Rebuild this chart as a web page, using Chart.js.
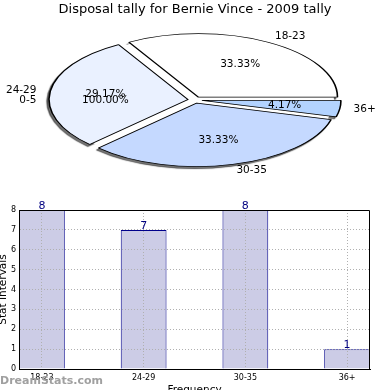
<!DOCTYPE html>
<html lang="en">
<head>
<meta charset="UTF-8">
<title>Disposal tally for Bernie Vince - 2009 tally</title>
<style>
    * { margin: 0; padding: 0; box-sizing: border-box; }
    body { width: 390px; height: 390px; background: #fff; position: relative; overflow: hidden; }
    #pieChart { position: absolute; left: 0; top: 0; }
    #barChart { position: absolute; left: 0; top: 190px; }
</style>
<script src="https://cdn.jsdelivr.net/npm/chart.js"></script>
</head>
<body>
<canvas id="pieChart" width="390" height="190"></canvas>
<canvas id="barChart" width="390" height="200"></canvas>
<script>
// data
const title = 'Disposal tally for Bernie Vince - 2009 tally';
const pieLabels = ['18-23', '24-29', '0-5', '30-35', '36+'];
const pieValues = [8, 7, 0, 8, 1];
const pieColors = ['#ffffff', '#eaf1ff', '#dfe9ff', '#c5d9ff', '#b3d3ff'];

const barLabels = ['18-23', '24-29', '30-35', '36+'];
const barValues = [8, 7, 8, 1];
const yTicks = [0, 1, 2, 3, 4, 5, 6, 7, 8];
const xTitle = 'Frequency';
const yTitle = 'Stat Intervals';
const watermark = 'DreamStats.com';

const FONT = '"DejaVu Sans", sans-serif';
const SQUASH = 0.457;   // the pie is drawn as a flat ellipse
const EXPLODE = 7;      // every wedge pulled out a bit

// chart.js runs clockwise, the original pie runs counter-clockwise
const order = pieLabels.map((_, i) => i).reverse();

function explodeShift(arc) {
    const mid = (arc.startAngle + arc.endAngle) / 2;
    return [Math.cos(mid) * EXPLODE, Math.sin(mid) * EXPLODE];
}

const ellipsePie = {
    id: 'ellipsePie',
    beforeDatasetsDraw(chart) {
        const ctx = chart.ctx;
        const arcs = chart.getDatasetMeta(0).data;
        const cx = arcs[0].x, cy = arcs[0].y, r = arcs[0].outerRadius;
        ctx.save();
        ctx.translate(cx, cy);
        ctx.scale(1, SQUASH);
        ctx.translate(-cx, -cy);
        const drawAll = (shiftX) => arcs.forEach(arc => {
            const [dx, dy] = explodeShift(arc);
            ctx.save();
            ctx.translate(dx + shiftX, dy);
            arc.draw(ctx);
            ctx.restore();
        });
        // shadow only: wedges drawn off-canvas, shadow thrown back, kept outside the rim
        ctx.save();
        ctx.beginPath();
        ctx.rect(-2000, -2000, 4000, 4000);
        ctx.arc(cx, cy, r, 0, Math.PI * 2);
        ctx.clip('evenodd');
        ctx.shadowColor = 'rgba(0,0,0,0.55)';
        ctx.shadowOffsetX = 1000 - 2;
        ctx.shadowOffsetY = 2;
        ctx.shadowBlur = 1;
        drawAll(-1000);
        ctx.restore();
        drawAll(0);
        ctx.restore();
        return false;
    },
    afterDraw(chart) {
        const ctx = chart.ctx;
        const arcs = chart.getDatasetMeta(0).data;
        const values = chart.data.datasets[0].data;
        const labels = chart.data.labels;
        const total = values.reduce((a, b) => a + b, 0);
        ctx.save();
        ctx.fillStyle = '#000';
        ctx.textBaseline = 'middle';
        ctx.textAlign = 'center';
        ctx.font = '13px ' + FONT;
        ctx.fillText(title, chart.width / 2, 10);
        ctx.font = '10.5px ' + FONT;
        arcs.forEach((arc, i) => {
            let ref = arc, dy = 0, dyPct = 0, pct = values[i] / total * 100;
            // the empty wedge gets stacked under its neighbour, as in the original
            if (values[i] === 0) { ref = arcs[i + 1]; dy = 10; dyPct = 6; pct = 100; }
            const mid = (ref.startAngle + ref.endAngle) / 2;
            const [ex, ey] = explodeShift(ref);
            const cx = ref.x + ex, cy = ref.y + ey * SQUASH;
            const r = ref.outerRadius;
            const cos = Math.cos(mid), sin = Math.sin(mid) * SQUASH;
            ctx.textAlign = cos >= 0 ? 'left' : 'right';
            ctx.fillText(labels[i], cx + 1.1 * r * cos, cy + 1.1 * r * sin + dy);
            ctx.textAlign = 'center';
            ctx.fillText(pct.toFixed(2) + '%', cx + 0.6 * r * cos, cy + 0.6 * r * sin + dyPct);
        });
        ctx.restore();
    }
};

const barExtras = {
    id: 'barExtras',
    afterDraw(chart) {
        const ctx = chart.ctx;
        const area = chart.chartArea;
        ctx.save();
        // top and right frame
        ctx.strokeStyle = '#000';
        ctx.lineWidth = 1;
        ctx.beginPath();
        ctx.moveTo(Math.round(area.left), Math.round(area.top) + 0.5);
        ctx.lineTo(Math.round(area.right) - 0.5, Math.round(area.top) + 0.5);
        ctx.lineTo(Math.round(area.right) - 0.5, Math.round(area.bottom));
        ctx.stroke();
        // values over the bars
        ctx.fillStyle = '#000080';
        ctx.font = '11px ' + FONT;
        ctx.textAlign = 'center';
        ctx.textBaseline = 'bottom';
        chart.getDatasetMeta(0).data.forEach((bar, i) => {
            ctx.fillText(String(barValues[i]), bar.x, bar.y + 2);
        });
        // axis titles
        ctx.fillStyle = '#000';
        ctx.font = '10.5px ' + FONT;
        ctx.textBaseline = 'alphabetic';
        ctx.fillText(xTitle, (area.left + area.right) / 2, 202.7);
        ctx.save();
        ctx.translate(3.5, (area.top + area.bottom) / 2);
        ctx.rotate(-Math.PI / 2);
        ctx.textBaseline = 'middle';
        ctx.fillText(yTitle, 0, 0);
        ctx.restore();
        // watermark
        ctx.fillStyle = '#a0a0a0';
        ctx.font = 'bold 11px ' + FONT;
        ctx.textAlign = 'left';
        ctx.textBaseline = 'alphabetic';
        ctx.fillText(watermark, 0, 193.5);
        ctx.restore();
    }
};

new Chart(document.getElementById('pieChart'), {
    type: 'pie',
    data: {
        labels: order.map(i => pieLabels[i]),
        datasets: [{
            data: order.map(i => pieValues[i]),
            backgroundColor: order.map(i => pieColors[i]),
            borderColor: '#000',
            borderWidth: 1.6
        }]
    },
    options: {
        responsive: false,
        animation: false,
        rotation: 90,
        radius: 139,
        layout: { padding: { top: 10 } },
        plugins: { legend: { display: false }, tooltip: { enabled: false } }
    },
    plugins: [ellipsePie]
});

new Chart(document.getElementById('barChart'), {
    type: 'bar',
    data: {
        datasets: [{
            data: barValues.map((v, i) => ({ x: i, y: v })),
            backgroundColor: '#ccccE6',
            borderColor: '#00008b',
            borderWidth: 1,
            barPercentage: 0.45,
            categoryPercentage: 1
        }]
    },
    options: {
        responsive: false,
        animation: false,
        layout: { padding: { top: 20, right: 20 } },
        plugins: { legend: { display: false }, tooltip: { enabled: false } },
        scales: {
            x: {
                type: 'linear',
                offset: false,
                min: -0.225,
                max: barLabels.length - 1 + 0.225,
                afterBuildTicks: s => { s.ticks = barLabels.map((_, i) => ({ value: i })); },
                afterFit: s => { s.height = 21; },
                ticks: {
                    callback: v => barLabels[v],
                    font: { family: FONT, size: 8 },
                    color: '#000',
                    padding: 4,
                    maxRotation: 0,
                    autoSkip: false
                },
                grid: { color: '#b0b0b0', drawTicks: false, offset: false, z: 1 },
                border: { color: '#000', width: 1, dash: [1, 2], z: 2 }
            },
            y: {
                min: 0,
                max: 8,
                afterBuildTicks: s => { s.ticks = yTicks.map(v => ({ value: v })); },
                afterFit: s => { s.width = 19; },
                ticks: {
                    font: { family: FONT, size: 8 },
                    color: '#000',
                    padding: 3
                },
                grid: { color: '#b0b0b0', drawTicks: false, z: 1 },
                border: { color: '#000', width: 1, dash: [1, 2], z: 2 }
            }
        }
    },
    plugins: [barExtras]
});
</script>
</body>
</html>
